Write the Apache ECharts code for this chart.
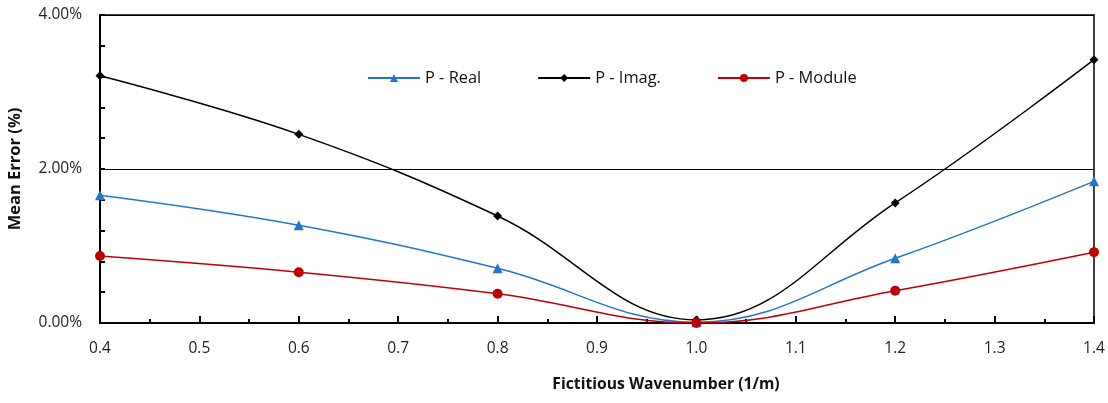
<!DOCTYPE html>
<html><head><meta charset="utf-8">
<script src="https://cdn.jsdelivr.net/npm/echarts@6/dist/echarts.min.js"></script>
<style>html,body{margin:0;padding:0;background:#fff}#c{width:1108px;height:403px}</style>
</head><body><div id="c"></div>
<script>
const wavenumbers = [0.4, 0.6, 0.8, 1.0, 1.2, 1.4];
const pReal = [1.66, 1.27, 0.71, 0.01, 0.84, 1.84];
const pImag = [3.21, 2.45, 1.39, 0.04, 1.56, 3.42];
const pModule = [0.87, 0.66, 0.38, 0.00, 0.42, 0.92];
const seriesNames = ['P - Real', 'P - Imag.', 'P - Module'];
const xTitle = 'Fictitious Wavenumber (1/m)';
const yTitle = 'Mean Error (%)';

const font = '"Open Sans", "Liberation Sans", sans-serif';
const pair = arr => wavenumbers.map((x, i) => [x, arr[i]]);
const chart = echarts.init(document.getElementById('c'), null, {renderer: 'canvas'});
chart.setOption({
  animation: false,
  textStyle: {fontFamily: font},
  title: {
    text: xTitle, left: 666, top: 377, textAlign: 'center', padding: 0,
    textStyle: {fontFamily: font, fontSize: 15.7, fontWeight: 'bold', color: '#111'}
  },
  legend: {
    left: 367, top: 70, padding: 0, itemWidth: 52, itemHeight: 10, itemGap: 56,
    textStyle: {fontFamily: font, fontSize: 16.4, color: '#111'},
    data: seriesNames
  },
  grid: {left: 100, right: 14, top: 15, bottom: 80, outerBoundsMode: 'none', containLabel: false,
         show: true, borderColor: '#000', borderWidth: 1.5},
  xAxis: {
    type: 'value', min: 0.4, max: 1.4, interval: 0.1,
    axisLine: {lineStyle: {color: '#000', width: 2}},
    axisTick: {inside: true, length: 7, lineStyle: {color: '#000', width: 2}},
    minorTick: {show: true, splitNumber: 2, length: 4, lineStyle: {color: '#000', width: 2}},
    splitLine: {show: false},
    axisLabel: {formatter: v => v.toFixed(1), fontSize: 15.5, color: '#222', margin: 18, fontFamily: font}
  },
  yAxis: {
    type: 'value', min: 0, max: 4, interval: 2,
    name: yTitle, nameLocation: 'middle', nameGap: 76,
    nameTextStyle: {fontFamily: font, fontSize: 16.5, fontWeight: 'bold', color: '#111'},
    axisLine: {show: true, lineStyle: {color: '#000', width: 2}},
    axisTick: {inside: true, length: 5, lineStyle: {color: '#000', width: 2}},
    minorTick: {show: true, splitNumber: 5, length: 5, lineStyle: {color: '#000', width: 2}},
    splitLine: {show: true, lineStyle: {color: '#000', width: 1}},
    axisLabel: {formatter: v => v.toFixed(2) + '%', fontSize: 15.5, color: '#222', margin: 18, fontFamily: font}
  },
  series: [
    {name: seriesNames[0], type: 'line', smooth: 0.4, data: pair(pReal),
     symbol: 'triangle', symbolSize: 10, color: '#2277CC', lineStyle: {width: 1.5, color: '#2277CC'}, z: 3},
    {name: seriesNames[1], type: 'line', smooth: 0.4, data: pair(pImag),
     symbol: 'diamond', symbolSize: 9, color: '#000', lineStyle: {width: 1.5, color: '#000'}, z: 2},
    {name: seriesNames[2], type: 'line', smooth: 0.4, data: pair(pModule),
     symbol: 'circle', symbolSize: 10, color: '#C00000', lineStyle: {width: 1.5, color: '#C00000'}, z: 4}
  ]
});
</script></body></html>
